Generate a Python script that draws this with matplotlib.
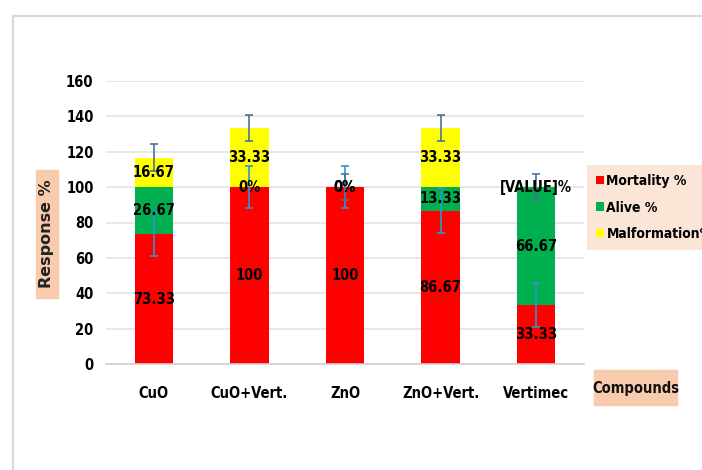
import numpy as np
import matplotlib.pyplot as plt
from matplotlib.patches import Rectangle

compounds = ['CuO', 'CuO+Vert.', 'ZnO', 'ZnO+Vert.', 'Vertimec']

mortality = [73.33, 100, 100, 86.67, 33.33]
alive = [26.67, 0, 0, 13.33, 66.67]
malformation = [16.67, 33.33, 0, 33.33, 0]

mortality_err = [12.5, 12, 12, 12.7, 12.3]
malformation_err = [7.6, 7.5, 7.2, 7.5, 7.3]

mortality_labels = ['73.33', '100', '100', '86.67', '33.33']
alive_labels = ['26.67', '0%', '0%', '13.33', '66.67']
malformation_labels = ['16.67', '33.33', '0%', '33.33', '[VALUE]%']

fnt = dict(family='DejaVu Sans', stretch='condensed', weight='bold')

fig = plt.figure(figsize=(7.02, 4.70), dpi=100)
W, H = 702, 470
ax = fig.add_axes([106 / W, (H - 364) / H, (584 - 106) / W, (364 - 81) / H])

x = np.arange(len(compounds))
mort = np.array(mortality)
alv = np.array(alive)
mal = np.array(malformation)

b1 = ax.bar(x, mort, 0.4, color='#FF0000', label='Mortality %', zorder=2)
b2 = ax.bar(x, alv, 0.4, bottom=mort, color='#00B050', label='Alive %', zorder=2)
b3 = ax.bar(x, mal, 0.4, bottom=mort + alv, color='#FFFF00', label='Malformation%', zorder=2)

ax.errorbar(x, mort, yerr=mortality_err, fmt='none', ecolor='#2F95CC',
            elinewidth=1.2, capsize=3, capthick=1.2, zorder=3)
ax.errorbar(x, mort + alv + mal, yerr=malformation_err, fmt='none', ecolor='#4A7396',
            elinewidth=1.2, capsize=3, capthick=1.2, zorder=3)

for bars, labs in [(b1, mortality_labels), (b2, alive_labels), (b3, malformation_labels)]:
    ax.bar_label(bars, labels=labs, label_type='center', fontsize=10.5,
                 color='black', zorder=4, **fnt)

ax.set_xlim(-0.5, 4.5)
ax.set_ylim(0, 160)
ax.set_yticks(np.arange(0, 161, 20))
ax.set_xticks(x)
ax.set_xticklabels(compounds)
ax.grid(axis='y', color='#E3E3E3', lw=1.2, zorder=0)
ax.set_axisbelow(True)
for s in ['top', 'right', 'left']:
    ax.spines[s].set_visible(False)
ax.spines['bottom'].set_color('#D0D0D0')
ax.spines['bottom'].set_linewidth(1.2)
ax.tick_params(axis='both', length=0)
ax.tick_params(axis='x', pad=16)
ax.tick_params(axis='y', pad=9)
for t in ax.get_xticklabels() + ax.get_yticklabels():
    t.set_fontfamily('DejaVu Sans')
    t.set_fontstretch('condensed')
    t.set_fontweight('bold')
    t.set_fontsize(10.5)

leg = ax.legend(handles=[b1, b2, b3], loc='upper left',
                bbox_to_anchor=(587 / W, 1 - 165 / H), bbox_transform=fig.transFigure,
                frameon=True, fancybox=False, facecolor='#FBE5D6', edgecolor='none',
                framealpha=1, handlelength=0.55, handleheight=0.55, handletextpad=0.2,
                labelspacing=0.9, borderpad=0.65, borderaxespad=0,
                prop={'family': 'DejaVu Sans', 'stretch': 'condensed',
                      'weight': 'bold', 'size': 10})

# peach boxes behind the axis titles
fig.patches.append(Rectangle((36 / W, 1 - 298 / H), 22 / W, 128 / H,
                             transform=fig.transFigure, color='#F8CBAD', zorder=0))
fig.text(47 / W, 1 - 234 / H, 'Response %', rotation=90, ha='center', va='center',
         fontsize=11.5, fontweight='bold', color='#222222')
fig.patches.append(Rectangle((594 / W, 1 - 405 / H), 83 / W, 35 / H,
                             transform=fig.transFigure, color='#F8CBAD', zorder=0))
fig.text(635.5 / W, 1 - 388 / H, 'Compounds', ha='center', va='center',
         fontsize=10.5, color='#111111', **fnt)

fig.patches.append(Rectangle((13 / W, -0.1), 1.1, 1 - 16 / H + 0.1,
                             transform=fig.transFigure, fill=False,
                             edgecolor='#D9D9D9', lw=1.6))

fig.savefig('out.png', dpi=100)
